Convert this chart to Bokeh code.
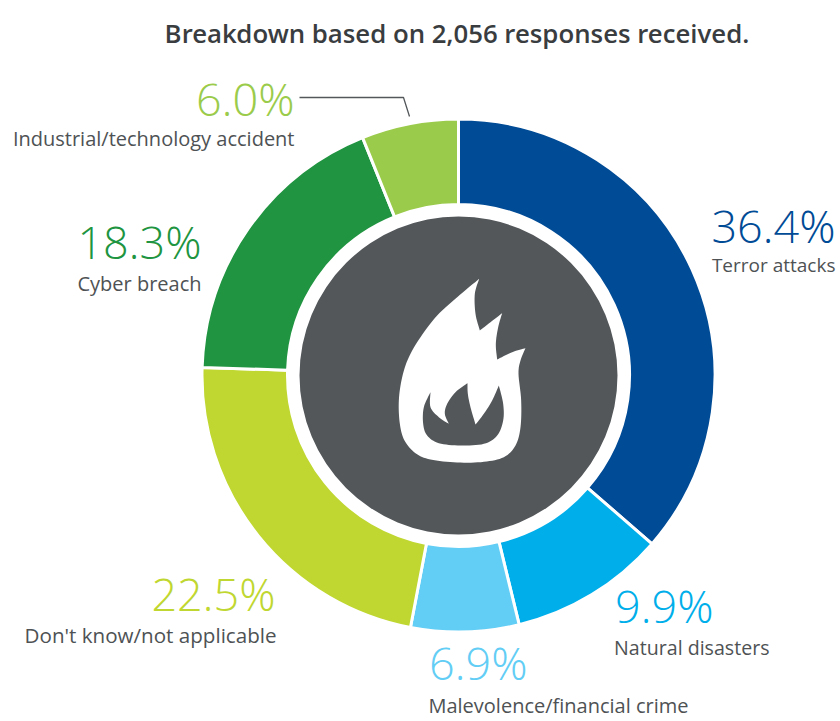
from math import pi
from bokeh.plotting import figure
from bokeh.embed import file_html
from bokeh.resources import INLINE
from bokeh.core.properties import value
from bokeh.models import Range1d

W, H = 840, 721
categories = ["Terror attacks", "Natural disasters", "Malevolence/financial crime",
              "Don't know/not applicable", "Cyber breach", "Industrial/technology accident"]
# wedge sizes (printed labels sum to 100.5)
shares = [36.4, 9.8, 6.8, 22.5, 18.4, 6.1]
pct_labels = ["36.4%", "9.9%", "6.9%", "22.5%", "18.3%", "6.0%"]
colors = ["#004b96", "#00aeea", "#62cdf5", "#bfd730", "#209440", "#9bcb4b"]
title = "Breakdown based on 2,056 responses received."
# label anchors in reference pixels: (x, y of pct baseline, y of name baseline)
label_pos = [(835, 242, 272), (713, 622, 654), (527, 679, 712),
             (275, 610, 642), (201, 258, 290), (294, 115, 145)]
name_right = [835, 769, 688, 276, 201, 294]
name_sizes = [19, 19.6, 20, 20.6, 20, 20]
TXT = "#4e5254"
GREY = "#53575a"
PCT_SIZE = 45
SHIFT = 0.37
TITLE_SIZE = 25.8

def Y(py):
    return 721 - py

def smooth(points, n=8):
    """Catmull-Rom through the points, ends kept sharp."""
    out = []
    pts = [points[0]] + list(points) + [points[-1]]
    for i in range(1, len(pts) - 2):
        p0, p1, p2, p3 = pts[i - 1], pts[i], pts[i + 1], pts[i + 2]
        for k in range(n):
            t = k / n
            out.append(tuple(
                0.5 * (2 * p1[d] + (p2[d] - p0[d]) * t + (2 * p0[d] - 5 * p1[d] + 4 * p2[d] - p3[d]) * t ** 2
                       + (3 * p1[d] - p0[d] - 3 * p2[d] + p3[d]) * t ** 3) for d in (0, 1)))
    return out

p = figure(width=W, height=H, output_backend="svg", toolbar_location=None,
           x_range=Range1d(0, W), y_range=Range1d(0, H), min_border=0)
p.axis.visible = False
p.grid.visible = False
p.outline_line_color = None
p.background_fill_color = "white"
p.border_fill_color = "white"

cx, cy = 458, Y(375)
total = sum(shares)
start = pi / 2
for v, c in zip(shares, colors):
    end = start - v / total * 2 * pi
    p.annular_wedge(x=cx, y=cy, inner_radius=171, outer_radius=256.5, start_angle=end, end_angle=start,
                    fill_color=c, line_color="white", line_width=3)
    start = end
p.circle(x=cx, y=cy, radius=159, fill_color=GREY, line_color=None)

# flame icon, traced in 3x crop coordinates from origin (380, 260)
outer_segments = [
    [(296,55),(230,110),(170,165),(120,230),(85,290),(65,350),(55,420),(58,490),(72,540),(105,578),(150,597),
     (230,606),(310,604),(370,590),(405,555),(420,500),(422,420),(414,340),(420,300),(435,263)],
    [(435,263),(395,275),(350,297)],
    [(350,297),(346,250),(353,200),(365,158)],
    [(365,158),(330,185),(298,210)],
    [(298,210),(285,160),(283,100),(296,55)],
]
hole_segments = [
    [(150,395),(130,440),(128,490),(140,525),(175,548),(240,555),(310,550),(350,525),(368,480),(368,430),(355,375)],
    [(355,375),(335,420),(310,460),(285,492)],
    [(285,492),(270,440),(262,400),(261,368)],
    [(261,368),(225,395),(200,430),(193,460),(205,490)],
    [(205,490),(175,470),(150,440),(150,395)],
]
for segs, col in ((outer_segments, "white"), (hole_segments, GREY)):
    pts = [q for s in segs for q in smooth(s)]
    p.patch([380 + a / 3 for a, b in pts], [Y(260 + b / 3) for a, b in pts], fill_color=col, line_color=None)

# leader line
p.line([299, 403, 409], [Y(97), Y(97), Y(116)], line_color=GREY, line_width=1.3)

for (x, yp, yn), xr, ns, pct, name, c in zip(label_pos, name_right, name_sizes, pct_labels, categories, colors):
    p.text(x=[x], y=[Y(yp - SHIFT * PCT_SIZE)], text=[pct], text_color=c, text_font=value("Open Sans Light"),
           text_font_size=f"{PCT_SIZE}px", text_align="right", text_baseline="alphabetic")
    p.text(x=[xr], y=[Y(yn - SHIFT * ns)], text=[name], text_color=TXT, text_font=value("Open Sans"),
           text_font_size=f"{ns}px", text_align="right", text_baseline="alphabetic")

p.text(x=[456.5], y=[Y(42 - SHIFT * TITLE_SIZE)], text=[title], text_color="#3a3d3f", text_font=value("Open Sans SemiBold"),
       text_font_size=f"{TITLE_SIZE}px", text_align="center", text_baseline="alphabetic")

open("out.html", "w").write(file_html(p, INLINE))
